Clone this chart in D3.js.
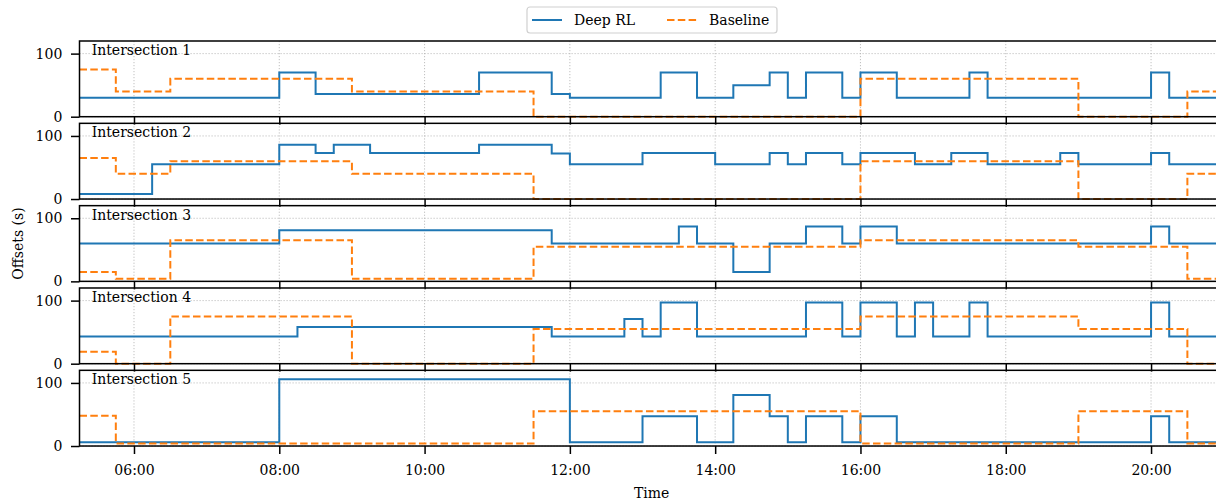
<!DOCTYPE html>
<html>
<head>
<meta charset="UTF-8">
<title>Offsets</title>
<script src="https://d3js.org/d3.v7.min.js"></script>
<style>
  body { margin: 0; background: #fff; }
  svg text { font-family: "DejaVu Serif", serif; font-size: 14px; fill: #000; }
  .axis path.domain { display: none; }
  .axis line { stroke: #000; stroke-width: 1.5; }
  .grid line { stroke: #b0b0b0; stroke-width: 0.8; stroke-dasharray: 1.2,1.8; }
</style>
</head>
<body>
<svg id="svg"></svg>
<script>
var WIDTH = 1216;
var HEIGHT = 500;

// categories
var intersections = ["Intersection 1", "Intersection 2", "Intersection 3", "Intersection 4", "Intersection 5"];
var seriesNames = ["Deep RL", "Baseline"];
var yTicks = [0, 100];
var timeStart = "05:15";
var timeEnd = "21:00";

// step series: [start time, offset in s]
var deepRL1 = [["05:15",30],["08:00",70],["08:30",36],["10:45",70],["11:45",36],["12:00",30],["13:15",70],["13:45",30],["14:15",50],["14:45",70],["15:00",30],["15:15",70],["15:45",30],["16:00",70],["16:30",30],["17:30",70],["17:45",30],["20:00",70],["20:15",30]];
var baseline1 = [["05:15",75],["05:45",40],["06:30",60],["09:00",40],["11:30",0],["16:00",60],["19:00",0],["20:30",40]];

var deepRL2 = [["05:15",8],["06:15",55],["08:00",86],["08:30",73],["08:45",86],["09:15",73],["10:45",86],["11:45",72],["12:00",55],["13:00",73],["14:00",55],["14:45",73],["15:00",55],["15:15",73],["15:45",55],["16:00",73],["16:45",55],["17:15",73],["17:45",55],["18:45",73],["19:00",55],["20:00",73],["20:15",55]];
var baseline2 = [["05:15",65],["05:45",40],["06:30",60],["09:00",40],["11:30",0],["16:00",60],["19:00",0],["20:30",40]];

var deepRL3 = [["05:15",60],["08:00",81],["11:45",60],["13:30",87],["13:45",60],["14:15",15],["14:45",60],["15:15",87],["15:45",60],["16:00",87],["16:30",60],["20:00",87],["20:15",60]];
var baseline3 = [["05:15",15],["05:45",4],["06:30",65],["09:00",4],["11:30",55],["16:00",65],["19:00",55],["20:30",4]];

var deepRL4 = [["05:15",43],["08:15",58],["11:45",43],["12:45",71],["13:00",43],["13:15",97],["13:45",43],["15:15",97],["15:45",43],["16:00",97],["16:30",43],["16:45",97],["17:00",43],["17:30",97],["17:45",43],["20:00",97],["20:15",43]];
var baseline4 = [["05:15",19],["05:45",0],["06:30",75],["09:00",0],["11:30",55],["16:00",75],["19:00",55],["20:30",0]];

var deepRL5 = [["05:15",6],["08:00",106],["12:00",6],["13:00",47],["13:45",6],["14:15",81],["14:45",47],["15:00",6],["15:15",47],["15:45",6],["16:00",47],["16:30",6],["20:00",47],["20:15",6]];
var baseline5 = [["05:15",48],["05:45",4],["11:30",55],["16:00",4],["19:00",55],["20:30",4]];

var deepRL = [deepRL1, deepRL2, deepRL3, deepRL4, deepRL5];
var baseline = [baseline1, baseline2, baseline3, baseline4, baseline5];

var parseTime = function(s){
    var p = s.split(":");
    return new Date(2000, 0, 1, +p[0], +p[1]);
};
var fmt = d3.timeFormat("%H:%M");

var svg = d3.select("#svg").attr("width", WIDTH).attr("height", HEIGHT);

var LEFT = 79.5, RIGHT = 1223.7;
var TOP = 41, PANEL_H = 75.7, PITCH = 82.33;

var xScale = d3.scaleTime()
    .domain([parseTime(timeStart), parseTime(timeEnd)])
    .range([LEFT, RIGHT]);
var xTicks = xScale.ticks(d3.timeHour.every(2));

svg.append("clipPath").attr("id", "clip")
   .append("rect").attr("x", LEFT).attr("y", 0).attr("width", RIGHT - LEFT).attr("height", HEIGHT);

// extend the last value to the end of the day
var withEnd = function(d){
    return d.concat([[timeEnd, d[d.length - 1][1]]]);
};

intersections.forEach(function(name, i){
    var top = TOP + i * PITCH;
    var bottom = top + PANEL_H;
    var yScale = d3.scaleLinear().domain([0, 120]).range([bottom, top]);
    var g = svg.append("g");

    // grid
    var grid = g.append("g").attr("class", "grid");
    grid.selectAll(".vx").data(xTicks).enter().append("line")
        .attr("x1", function(d){ return xScale(d); })
        .attr("x2", function(d){ return xScale(d); })
        .attr("y1", top).attr("y2", bottom);
    grid.selectAll(".hy").data(yTicks).enter().append("line")
        .attr("x1", LEFT).attr("x2", RIGHT)
        .attr("y1", function(d){ return yScale(d); })
        .attr("y2", function(d){ return yScale(d); });

    var line = d3.line()
        .x(function(d){ return xScale(parseTime(d[0])); })
        .y(function(d){ return yScale(d[1]); })
        .curve(d3.curveStepAfter);

    g.append("path")
        .attr("clip-path", "url(#clip)")
        .attr("d", line(withEnd(deepRL[i])))
        .attr("fill", "none")
        .attr("stroke", "#1f77b4")
        .attr("stroke-width", 2);
    g.append("path")
        .attr("clip-path", "url(#clip)")
        .attr("d", line(withEnd(baseline[i])))
        .attr("fill", "none")
        .attr("stroke", "#ff7f0e")
        .attr("stroke-width", 2)
        .attr("stroke-dasharray", "7.5,3.3");

    // frame
    g.append("rect")
        .attr("x", LEFT).attr("y", top)
        .attr("width", RIGHT - LEFT).attr("height", PANEL_H)
        .attr("fill", "none").attr("stroke", "#000").attr("stroke-width", 1.5);

    var xAxis = d3.axisBottom(xScale)
        .ticks(d3.timeHour.every(2))
        .tickSize(8)
        .tickPadding(11)
        .tickFormat(i === intersections.length - 1 ? fmt : "");
    g.append("g").attr("class", "axis")
        .attr("transform", "translate(0," + bottom + ")")
        .call(xAxis)
        .selectAll("text").style("font-size", "14px").style("font-family", "DejaVu Serif");

    var yAxis = d3.axisLeft(yScale).tickValues(yTicks).tickSize(8.5).tickPadding(8.7);
    g.append("g").attr("class", "axis")
        .attr("transform", "translate(" + LEFT + ",0)")
        .call(yAxis)
        .selectAll("text").style("font-size", "14px").style("font-family", "DejaVu Serif");

    g.append("text")
        .attr("x", 91.7).attr("y", top + 14)
        .text(name);
});

// axis labels
svg.append("text")
    .attr("transform", "translate(17.5," + (TOP + (4 * PITCH + PANEL_H) / 2) + ") rotate(-90)")
    .attr("text-anchor", "middle")
    .attr("dominant-baseline", "central")
    .text("Offsets (s)");
svg.append("text")
    .attr("x", (LEFT + RIGHT) / 2).attr("y", 498)
    .attr("text-anchor", "middle")
    .text("Time");

// legend
var legend = svg.append("g");
legend.append("rect")
    .attr("x", 527).attr("y", 7).attr("width", 250).attr("height", 26).attr("rx", 3)
    .attr("fill", "#fff").attr("fill-opacity", 0.8)
    .attr("stroke", "#d0d0d0").attr("stroke-width", 1.2);
var legendItems = [
    {name: seriesNames[0], color: "#1f77b4", dash: null, x: 532},
    {name: seriesNames[1], color: "#ff7f0e", dash: "7.5,3.3", x: 667}
];
legendItems.forEach(function(d){
    legend.append("line")
        .attr("x1", d.x).attr("x2", d.x + 30)
        .attr("y1", 20).attr("y2", 20)
        .attr("stroke", d.color).attr("stroke-width", 2)
        .attr("stroke-dasharray", d.dash);
    legend.append("text")
        .attr("x", d.x + 42).attr("y", 20)
        .attr("dominant-baseline", "central")
        .text(d.name);
});
</script>
</body>
</html>
